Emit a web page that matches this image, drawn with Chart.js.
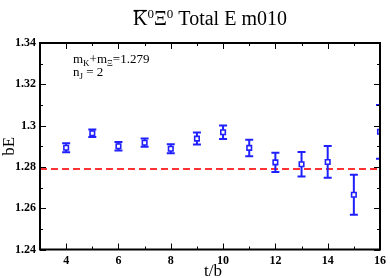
<!DOCTYPE html>
<html>
<head>
<meta charset="utf-8">
<script src="https://cdn.jsdelivr.net/npm/chart.js@4.4.1/dist/chart.umd.min.js"></script>
<style>
html,body{margin:0;padding:0;background:#fff;}
#wrap{width:390px;height:278px;position:relative;}
</style>
</head>
<body>
<div id="wrap"><canvas id="c" width="390" height="278"></canvas></div>
<script>
// ---- data ----
const tVals  = [4, 5, 6, 7, 8, 9, 10, 11, 12, 13, 14, 15, 16];
const bE     = [1.2893, 1.2963, 1.2900, 1.2917, 1.2888, 1.2937, 1.2968, 1.2892, 1.2822, 1.2813, 1.2824, 1.2665, 1.2970];
const bEerr  = [0.0022, 0.0018, 0.0020, 0.0020, 0.0022, 0.0029, 0.0033, 0.0040, 0.0047, 0.0059, 0.0077, 0.0097, 0.0130];
const refLine = 1.279;
const xRange = [3, 16];
const yRange = [1.24, 1.34];
const titleParts = ['K', '0', 'Ξ', '0', ' Total E m010'];
const xTitle = 't/b';
const yTitle = 'bE';

const BLUE = '#1f1fff';
const RED = '#ff3333';
const SERIF = "'Liberation Serif', 'DejaVu Serif', serif";

const decor = {
  id: 'decor',
  beforeDatasetsDraw(chart) {
    const ctx = chart.ctx, a = chart.chartArea;
    const xs = chart.scales.x, ys = chart.scales.y;
    ctx.save();
    ctx.beginPath();
    ctx.rect(a.left, a.top, a.right - a.left, a.bottom - a.top);
    ctx.clip();
    // reference dashed line
    const yr = ys.getPixelForValue(refLine);
    ctx.strokeStyle = RED;
    ctx.lineWidth = 2;
    ctx.setLineDash([7, 4]);
    ctx.beginPath();
    ctx.moveTo(a.left, yr);
    ctx.lineTo(a.right, yr);
    ctx.stroke();
    ctx.setLineDash([]);
    // error bars
    ctx.strokeStyle = BLUE;
    ctx.lineWidth = 2;
    for (let i = 0; i < tVals.length; i++) {
      const px = xs.getPixelForValue(tVals[i]);
      const yt = ys.getPixelForValue(bE[i] + bEerr[i]);
      const yb = ys.getPixelForValue(bE[i] - bEerr[i]);
      ctx.beginPath();
      ctx.moveTo(px, yt); ctx.lineTo(px, yb);
      ctx.moveTo(px - 4, yt); ctx.lineTo(px + 4, yt);
      ctx.moveTo(px - 4, yb); ctx.lineTo(px + 4, yb);
      ctx.stroke();
    }
    ctx.restore();
  },
  afterDraw(chart) {
    const ctx = chart.ctx, a = chart.chartArea;
    const xs = chart.scales.x, ys = chart.scales.y;
    ctx.save();
    // ticks (inward)
    ctx.strokeStyle = '#000';
    ctx.lineWidth = 1;
    xs.ticks.forEach(t => {
      const v = t.value;
      const px = Math.round(xs.getPixelForValue(v)) + 0.5;
      const len = (Math.round(v) % 2 === 0) ? 6 : 3;
      ctx.beginPath();
      ctx.moveTo(px, a.bottom); ctx.lineTo(px, a.bottom - len);
      ctx.moveTo(px, a.top); ctx.lineTo(px, a.top + len);
      ctx.stroke();
    });
    ys.ticks.forEach(t => {
      const v = t.value;
      const py = Math.round(ys.getPixelForValue(v)) + 0.5;
      const len = (Math.round(v * 100) % 2 === 0) ? 6 : 3;
      ctx.beginPath();
      ctx.moveTo(a.left, py); ctx.lineTo(a.left + len, py);
      ctx.moveTo(a.right, py); ctx.lineTo(a.right - len, py);
      ctx.stroke();
    });
    // frame
    ctx.lineWidth = 2;
    ctx.strokeRect(a.left, a.top, a.right - a.left, a.bottom - a.top);

    // title
    ctx.fillStyle = '#000';
    ctx.textBaseline = 'alphabetic';
    ctx.textAlign = 'left';
    const big = '20px ' + SERIF, sup = '13px ' + SERIF;
    const fonts = [big, sup, big, sup, big];
    let widths = titleParts.map((s, i) => { ctx.font = fonts[i]; return ctx.measureText(s).width; });
    const total = widths.reduce((p, q) => p + q, 0);
    let x = (a.left + a.right) / 2 - total / 2;
    const base = 25;
    titleParts.forEach((s, i) => {
      ctx.font = fonts[i];
      const y = (i === 1 || i === 3) ? base - 7 : base;
      ctx.fillText(s, x, y);
      if (i === 0) {
        ctx.lineWidth = 1.2;
        ctx.beginPath();
        ctx.moveTo(x + 0.5, 10.5); ctx.lineTo(x + widths[0] - 0.5, 10.5);
        ctx.stroke();
      }
      x += widths[i];
    });

    // annotation
    const txt = '13px ' + SERIF, sub = '9px ' + SERIF;
    function run(parts, x0, y0) {
      let xx = x0;
      parts.forEach(p => {
        ctx.font = p[1] ? sub : txt;
        ctx.fillText(p[0], xx, p[1] ? y0 + 3 : y0);
        xx += ctx.measureText(p[0]).width;
      });
    }
    run([['m', 0], ['K', 1], ['+m', 0], ['Ξ', 1], ['=1.279', 0]], 73, 63);
    run([['n', 0], ['J', 1], [' = 2', 0]], 73, 76);

    // axis titles
    ctx.font = '17px ' + SERIF;
    ctx.textAlign = 'center';
    ctx.fillText(xTitle, (a.left + a.right) / 2 + 3, 276);
    ctx.save();
    ctx.translate(14, (a.top + a.bottom) / 2);
    ctx.rotate(-Math.PI / 2);
    ctx.fillText(yTitle, 0, 0);
    ctx.restore();
    ctx.restore();
  }
};

new Chart(document.getElementById('c'), {
  type: 'scatter',
  data: {
    datasets: [{
      data: tVals.map((t, i) => ({ x: t, y: bE[i] })),
      pointStyle: 'rect',
      pointRadius: 3.2,
      pointHoverRadius: 3.2,
      pointBorderWidth: 1.6,
      borderColor: BLUE,
      backgroundColor: '#fff',
      clip: 0
    }]
  },
  options: {
    responsive: false,
    animation: false,
    events: [],
    layout: { padding: { top: 43, right: 7, left: 0, bottom: 0 } },
    plugins: { legend: { display: false }, tooltip: { enabled: false }, title: { display: false } },
    scales: {
      x: {
        type: 'linear', min: xRange[0], max: xRange[1],
        grid: { display: false, drawTicks: false },
        border: { display: false },
        ticks: {
          stepSize: 1, padding: 4, color: '#000', maxRotation: 0, autoSkip: false,
          font: { family: SERIF, weight: 'bold', size: 12 },
          callback: v => (Math.round(v) % 2 === 0 && Math.round(v) !== 3) ? String(Math.round(v)) : ''
        },
        afterFit: s => { s.height = 28.5; }
      },
      y: {
        type: 'linear', min: yRange[0], max: yRange[1],
        grid: { display: false, drawTicks: false },
        border: { display: false },
        ticks: {
          stepSize: 0.01, padding: 4, color: '#000', autoSkip: false,
          font: { family: SERIF, weight: 'bold', size: 12 },
          callback: v => (Math.round(v * 100) % 2 === 0) ? String(+v.toFixed(2)) : ''
        },
        afterFit: s => { s.width = 40; }
      }
    }
  },
  plugins: [decor]
});
</script>
</body>
</html>
